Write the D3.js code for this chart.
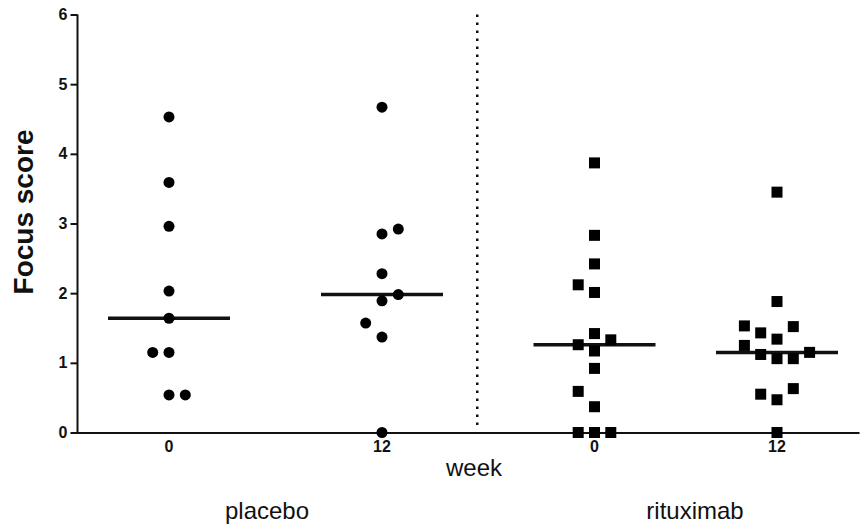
<!DOCTYPE html>
<html>
<head>
<meta charset="utf-8">
<script src="https://cdn.jsdelivr.net/npm/d3@7"></script>
<style>
  html, body { margin: 0; padding: 0; background: #fff; }
  svg { display: block; }
</style>
</head>
<body>
<div id="chart"></div>
<script>
// ---- data ----
const groups = ["placebo-0", "placebo-12", "rituximab-0", "rituximab-12"];
const weekLabels = ["0", "12", "0", "12"];
const armLabels = ["placebo", "rituximab"];
const yTicks = [0, 1, 2, 3, 4, 5, 6];

const placebo0 = [4.53, 3.59, 2.96, 2.03, 1.64, 1.15, 1.15, 0.54, 0.54];
const placebo0Slot = [0, 0, 0, 0, 0, -1, 0, 0, 1];

const placebo12 = [4.67, 2.92, 2.85, 2.28, 1.98, 1.89, 1.57, 1.37, 0];
const placebo12Slot = [0, 1, 0, 0, 1, 0, -1, 0, 0];

const rituximab0 = [3.87, 2.83, 2.42, 2.12, 2.01, 1.42, 1.33, 1.26, 1.17, 0.92, 0.59, 0.37, 0, 0, 0];
const rituximab0Slot = [0, 0, 0, -1, 0, 0, 1, -1, 0, 0, -1, 0, -1, 0, 1];

const rituximab12 = [3.45, 1.88, 1.53, 1.52, 1.43, 1.34, 1.25, 1.15, 1.12, 1.06, 1.06, 0.63, 0.55, 0.47, 0];
const rituximab12Slot = [0, 0, -2, 1, -1, 0, -2, 2, -1, 0, 1, 1, -1, 0, 0];

const series = [
  { key: "placebo-0", values: placebo0, slots: placebo0Slot, shape: "circle" },
  { key: "placebo-12", values: placebo12, slots: placebo12Slot, shape: "circle" },
  { key: "rituximab-0", values: rituximab0, slots: rituximab0Slot, shape: "square" },
  { key: "rituximab-12", values: rituximab12, slots: rituximab12Slot, shape: "square" }
];

// ---- layout ----
const W = 861, H = 528;
const axisX = 77.5, axisY = 432.5, topY = 14.5, rightX = 859;

const svg = d3.select("#chart").append("svg")
  .attr("width", W).attr("height", H);

const y = d3.scaleLinear().domain([0, 6]).range([axisY, topY]);
const x = d3.scaleOrdinal().domain(groups).range([169, 382, 594.5, 777]);
const slot = d3.scaleLinear().domain([0, 1]).range([0, 16.3]);
const armX = d3.scaleOrdinal().domain(armLabels).range([267, 695]);

const font = "'Liberation Sans', Arial, Helvetica, sans-serif";

// y axis
const yAxis = d3.axisLeft(y).tickValues(yTicks).tickSize(7).tickPadding(3).tickFormat(d3.format("d"));
const gy = svg.append("g").attr("transform", `translate(${axisX},0)`).call(yAxis);
gy.select(".domain").attr("stroke", "#111").attr("stroke-width", 2).attr("d", `M0,${axisY}V${topY}`);
gy.selectAll(".tick line").attr("stroke", "#111").attr("stroke-width", 2);
gy.selectAll(".tick text")
  .attr("font-family", font).attr("font-weight", "bold").attr("font-size", 16).attr("fill", "#111");

// x axis line
const xAxisScale = d3.scaleLinear().domain([0, 1]).range([axisX - 1, rightX]);
const xAxis = d3.axisBottom(xAxisScale).tickValues([]).tickSizeOuter(0);
const gx = svg.append("g").attr("transform", `translate(0,${axisY})`).call(xAxis);
gx.select(".domain").attr("stroke", "#111").attr("stroke-width", 2);

// x tick labels (week)
svg.append("g").selectAll("text").data(groups).join("text")
  .attr("x", d => x(d))
  .attr("y", 452)
  .attr("text-anchor", "middle")
  .attr("font-family", font).attr("font-weight", "bold").attr("font-size", 16).attr("fill", "#111")
  .text((d, i) => weekLabels[i]);

svg.append("text")
  .attr("x", 474).attr("y", 476)
  .attr("text-anchor", "middle")
  .attr("font-family", font).attr("font-size", 24).attr("fill", "#111")
  .text("week");

svg.append("g").selectAll("text").data(armLabels).join("text")
  .attr("x", d => armX(d)).attr("y", 519)
  .attr("text-anchor", "middle")
  .attr("font-family", font).attr("font-size", 24).attr("fill", "#111")
  .text(d => d);

// y title
svg.append("text")
  .attr("transform", `translate(33,212) rotate(-90)`)
  .attr("text-anchor", "middle")
  .attr("font-family", font).attr("font-weight", "bold").attr("font-size", 28).attr("fill", "#111")
  .text("Focus score");

// dotted separator
const sepX = (x("placebo-12") + x("rituximab-0")) / 2 - 11;
svg.append("line")
  .attr("x1", sepX).attr("x2", sepX)
  .attr("y1", y(6)).attr("y2", axisY - 4)
  .attr("stroke", "#111").attr("stroke-width", 2.5)
  .attr("stroke-dasharray", "2.5,5.5");

// median lines
const halfLen = 61;
svg.append("g").selectAll("line").data(series).join("line")
  .attr("x1", d => x(d.key) - halfLen)
  .attr("x2", d => x(d.key) + halfLen)
  .attr("y1", d => y(d3.median(d.values)))
  .attr("y2", d => y(d3.median(d.values)))
  .attr("stroke", "#111").attr("stroke-width", 3.5);

// points
const pts = series.flatMap(s => s.values.map((v, i) => ({ key: s.key, v, s: s.slots[i], shape: s.shape })));
svg.append("g").selectAll("circle").data(pts.filter(p => p.shape === "circle")).join("circle")
  .attr("cx", d => x(d.key) + slot(d.s))
  .attr("cy", d => y(d.v))
  .attr("r", 5.5)
  .attr("fill", "#000");

const side = 11;
svg.append("g").selectAll("rect").data(pts.filter(p => p.shape === "square")).join("rect")
  .attr("x", d => x(d.key) + slot(d.s) - side / 2)
  .attr("y", d => y(d.v) - side / 2)
  .attr("width", side).attr("height", side)
  .attr("fill", "#000");
</script>
</body>
</html>
